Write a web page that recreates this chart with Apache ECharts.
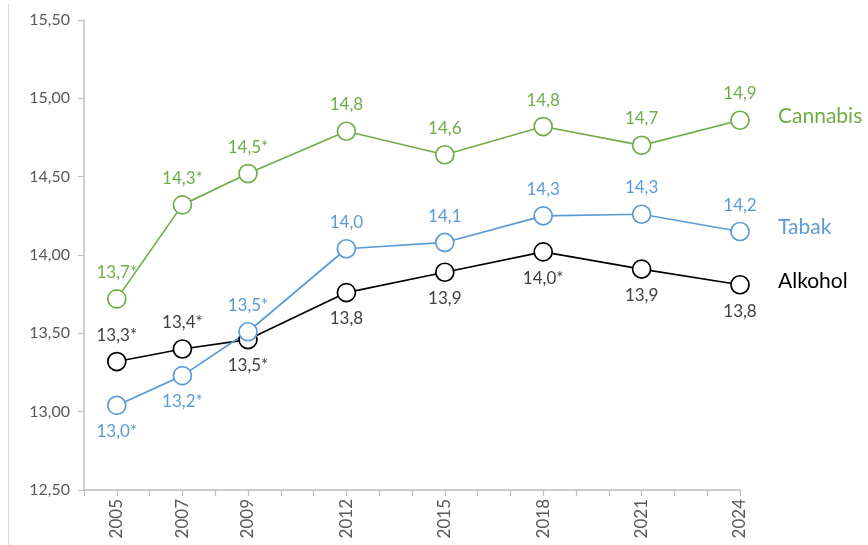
<!DOCTYPE html>
<html>
<head>
<meta charset="utf-8">
<script src="https://cdn.jsdelivr.net/npm/echarts@6/dist/echarts.min.js"></script>
<style>
  html, body { margin: 0; padding: 0; background: #fff; }
  #chart { width: 868px; height: 545px; }
</style>
</head>
<body>
<div id="chart"></div>
<script>
const YEARS = [2005, 2007, 2009, 2012, 2015, 2018, 2021, 2024]

const CANNABIS = [13.72, 14.32, 14.52, 14.79, 14.64, 14.82, 14.70, 14.86]
const TABAK = [13.04, 13.23, 13.51, 14.04, 14.08, 14.25, 14.26, 14.15]
const ALKOHOL = [13.32, 13.40, 13.46, 13.76, 13.89, 14.02, 13.91, 13.81]

const CANNABIS_LABELS = ['13,7*', '14,3*', '14,5*', '14,8', '14,6', '14,8', '14,7', '14,9']
const TABAK_LABELS = ['13,0*', '13,2*', '13,5*', '14,0', '14,1', '14,3', '14,3', '14,2']
const ALKOHOL_LABELS = ['13,3*', '13,4*', '13,5*', '13,8', '13,9', '14,0*', '13,9', '13,8']

const FONT = "Lato, 'Open Sans', sans-serif"
const COLORS = {
  cannabis: '#70ad47',
  tabak: '#5b9bd5',
  alkohol: '#000000',
  alkoholText: '#404040',
  axis: '#bfbfbf',
  tickText: '#595959',
}

const chart = echarts.init(document.getElementById('chart'))

function makeSeries(name, values, labels, color, textColor, posFn) {
  return {
    name,
    type: 'line',
    data: values.map((v, i) => ({
      value: [YEARS[i], v],
      label: { position: posFn(i), formatter: labels[i] },
    })),
    symbol: 'circle',
    symbolSize: 18,
    itemStyle: { color: '#fff', borderColor: color, borderWidth: 1.7 },
    lineStyle: { color, width: 1.7 },
    label: {
      show: true,
      distance: 8,
      color: textColor,
      fontFamily: FONT,
      fontSize: 17,
    },
    endLabel: {
      show: true,
      formatter: '{a}',
      distance: 38,
      offset: [0, -4],
      color,
      fontFamily: FONT,
      fontSize: 21,
    },
    emphasis: { disabled: true },
    animation: false,
  }
}

chart.setOption({
  grid: { left: 84, right: 128, top: 20, bottom: 55 },
  graphic: [{
    type: 'line',
    shape: { x1: 8.5, y1: 4, x2: 8.5, y2: 545 },
    style: { stroke: '#d9d9d9', lineWidth: 1 },
    silent: true,
  }],
  xAxis: {
    type: 'value',
    min: 2004,
    max: 2024,
    interval: 1,
    splitLine: { show: false },
    axisLine: { lineStyle: { color: COLORS.axis, width: 1.5 } },
    axisTick: { show: true, length: 6, lineStyle: { color: COLORS.axis, width: 1.2 } },
    axisLabel: {
      customValues: YEARS,
      rotate: 90,
      margin: 9,
      color: COLORS.tickText,
      fontFamily: FONT,
      fontSize: 17,
      formatter: v => String(v),
    },
  },
  yAxis: {
    type: 'value',
    min: 12.5,
    max: 15.5,
    interval: 0.5,
    splitLine: { show: false },
    axisLine: { show: true, lineStyle: { color: COLORS.axis, width: 1.5 } },
    axisTick: { show: true, length: 6, lineStyle: { color: COLORS.axis, width: 1.2 } },
    axisLabel: {
      margin: 14,
      color: COLORS.tickText,
      fontFamily: FONT,
      fontSize: 16,
      formatter: v => v.toFixed(2).replace('.', ','),
    },
  },
  series: [
    makeSeries('Cannabis', CANNABIS, CANNABIS_LABELS, COLORS.cannabis, COLORS.cannabis, () => 'top'),
    makeSeries('Alkohol', ALKOHOL, ALKOHOL_LABELS, COLORS.alkohol, COLORS.alkoholText, i => (i < 2 ? 'top' : 'bottom')),
    makeSeries('Tabak', TABAK, TABAK_LABELS, COLORS.tabak, COLORS.tabak, i => (i < 2 ? 'bottom' : 'top')),
  ],
})
</script>
</body>
</html>
